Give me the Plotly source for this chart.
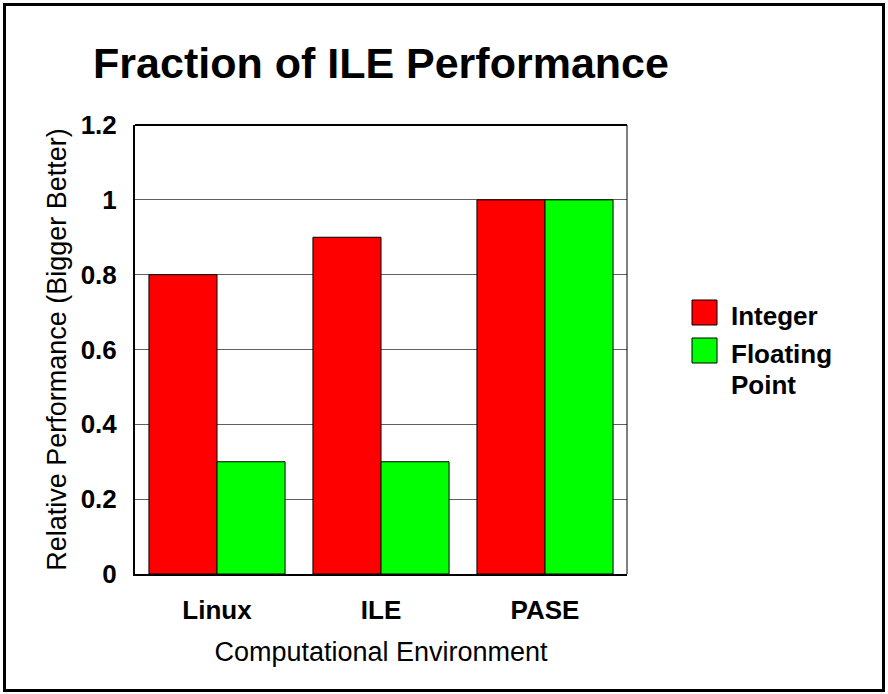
import plotly.graph_objects as go

# --- Data ---
categories = ["Linux", "ILE", "PASE"]
series_names = ["Integer", "Floating Point"]
integer_vals = [0.8, 0.9, 1.0]
float_vals = [0.3, 0.3, 1.0]
colors = ["#ff0000", "#00ff00"]
y_ticks = [0, 0.2, 0.4, 0.6, 0.8, 1.0, 1.2]

FONT = "Liberation Sans, Arial, sans-serif"

# plot area in pixels (888x694 page)
L, R, T, B = 135, 627, 125, 574
W, H = 888, 694
pw, ph = R - L, B - T


def px_x(x):
    return (x - L) / pw


def px_y(y):
    return (B - y) / ph


fig = go.Figure()
for name, vals, col in zip(series_names, [integer_vals, float_vals], colors):
    fig.add_trace(go.Bar(
        x=categories, y=vals, name=name, marker_color=col,
        marker_line=dict(color="black", width=1),
    ))

shapes = [
    # outer frame
    dict(type="rect", xref="paper", yref="paper",
         x0=px_x(4.5), x1=px_x(883.5), y0=px_y(4.5), y1=px_y(690.5),
         line=dict(color="black", width=3), fillcolor="rgba(0,0,0,0)", layer="below"),
    # plot frame top/right
    dict(type="line", xref="paper", yref="paper", x0=0, x1=1, y0=1, y1=1,
         line=dict(color="black", width=2)),
    dict(type="line", xref="paper", yref="paper", x0=1, x1=1, y0=0, y1=1,
         line=dict(color="black", width=1)),
]

# hand-drawn legend: boxes plus text lines
annotations = []
box_tops = [300, 338]
text_lines = [[(series_names[0], 316)],
              [(w, yc) for w, yc in zip(series_names[1].split(" "), [354, 385])]]
for col, ytop, lines in zip(colors, box_tops, text_lines):
    shapes.append(dict(type="rect", xref="paper", yref="paper",
                       x0=px_x(692), x1=px_x(717), y0=px_y(ytop + 25), y1=px_y(ytop),
                       fillcolor=col, line=dict(color="black", width=1)))
    for word, yc in lines:
        annotations.append(dict(xref="paper", yref="paper", x=px_x(729), y=px_y(yc),
                                text=word, showarrow=False, xanchor="left", yanchor="middle",
                                align="left",
                                font=dict(family=FONT, size=26, color="black", weight="bold")))

fig.update_layout(
    width=W, height=H,
    margin=dict(l=L, r=W - R, t=T, b=H - B),
    paper_bgcolor="white", plot_bgcolor="white",
    barmode="group", bargap=0.17, bargroupgap=0,
    showlegend=False,
    title=dict(text="<b>Fraction of ILE Performance</b>", xref="paper", x=px_x(381),
               xanchor="center", y=1 - 63 / H, yanchor="middle",
               font=dict(family=FONT, size=43, color="black")),
    font=dict(family=FONT, color="black"),
    shapes=shapes, annotations=annotations,
)
fig.update_yaxes(
    range=[0, 1.2], tickvals=y_ticks, ticks="", showgrid=True,
    gridcolor="#606060", gridwidth=1,
    showline=True, linecolor="black", linewidth=2,
    tickfont=dict(family=FONT, size=26, weight="bold"), ticklabelstandoff=11,
    title=dict(text="Relative Performance (Bigger Better)", standoff=6,
               font=dict(family=FONT, size=27)),
    zeroline=False,
)
fig.update_xaxes(
    showline=True, linecolor="black", linewidth=2, ticks="",
    tickfont=dict(family=FONT, size=26, weight="bold"), ticklabelstandoff=12,
    title=dict(text="Computational Environment", standoff=18,
               font=dict(family=FONT, size=27)),
)

fig.write_html("out.html", config={"displayModeBar": False},
               post_script="document.body.style.margin='0';document.body.style.overflow='hidden';")
